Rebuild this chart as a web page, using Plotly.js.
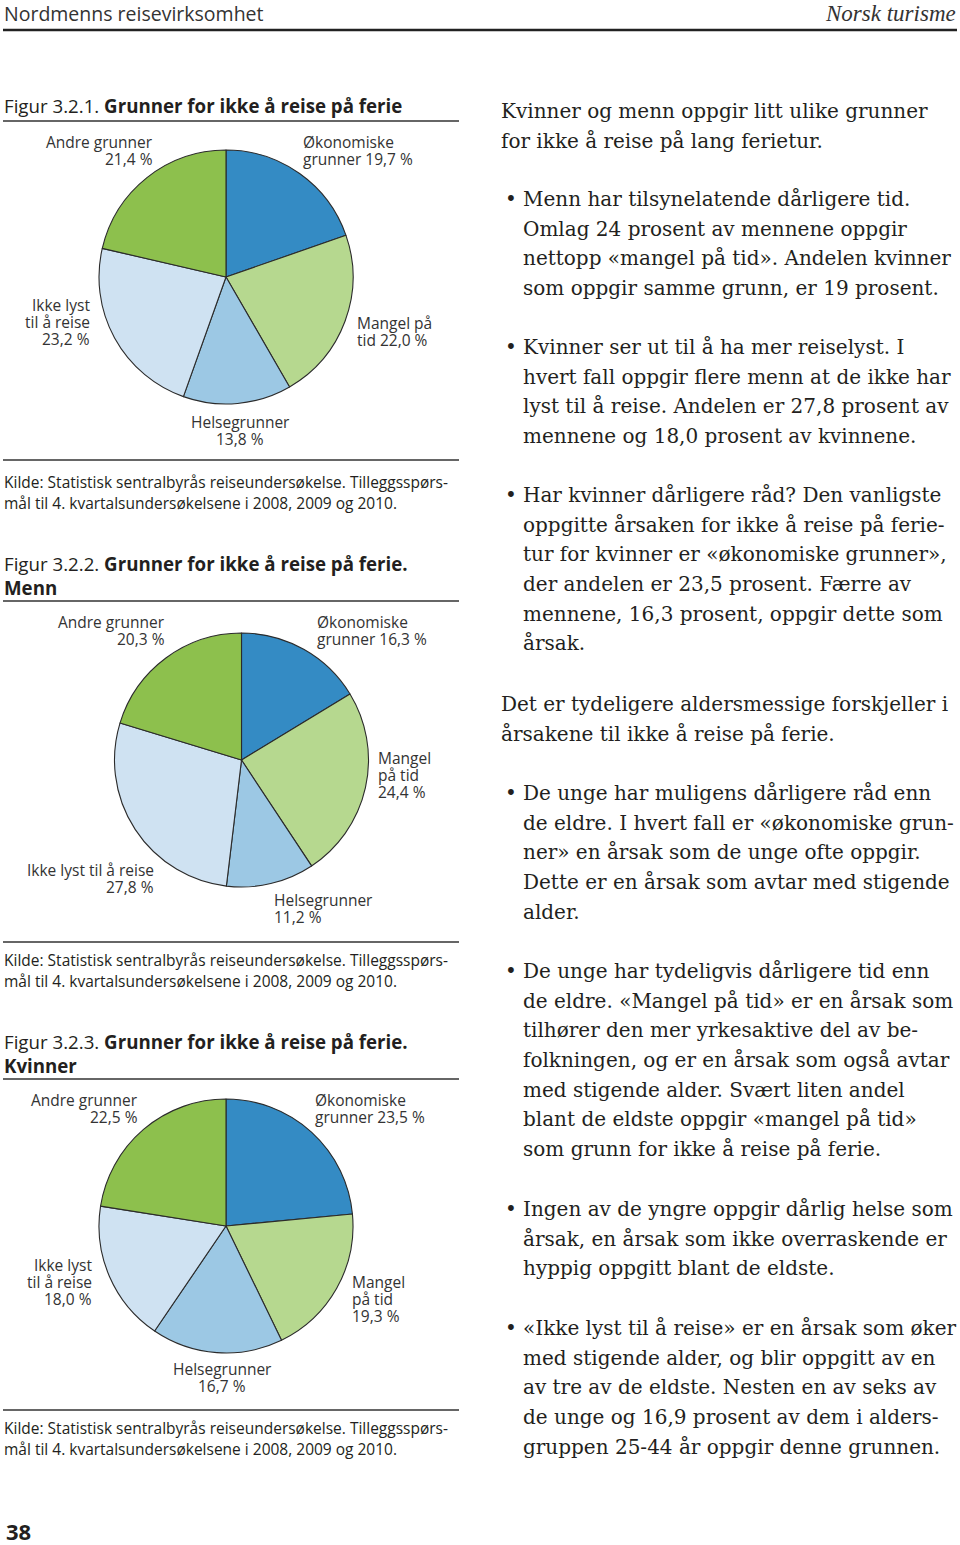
<!DOCTYPE html>
<html><head><meta charset="utf-8">
<script src="https://cdn.plot.ly/plotly-3.0.1.min.js"></script>
<style>html,body{margin:0;padding:0;background:#fff}#chart{width:960px;height:1545px}</style>
</head><body><div id="chart"></div>
<script>
// ---- data ----
const categories = ['Økonomiske grunner', 'Mangel på tid', 'Helsegrunner', 'Ikke lyst til å reise', 'Andre grunner'];
const valuesAlle = [19.7, 22.0, 13.8, 23.2, 21.4];
const valuesMenn = [16.3, 24.4, 11.2, 27.8, 20.3];
const valuesKvinner = [23.5, 19.3, 16.7, 18.0, 22.5];
const sliceColors = ['#348BC4', '#B6D88F', '#9CC8E4', '#CFE2F2', '#8DC04D'];

const headerLeft = 'Nordmenns reisevirksomhet';
const headerRight = 'Norsk turisme';
const pageNumber = '38';
const sourceLines = ['Kilde: Statistisk sentralbyrås reiseundersøkelse. Tilleggsspørs-',
                     'mål til 4. kvartalsundersøkelsene i 2008, 2009 og 2010.'];

const bodyParagraphs = [
  {bullet:false, y:111, lines:['Kvinner og menn oppgir litt ulike grunner','for ikke å reise på lang ferietur.']},
  {bullet:true, y:199, lines:['Menn har tilsynelatende dårligere tid.','Omlag 24 prosent av mennene oppgir','nettopp «mangel på tid». Andelen kvinner','som oppgir samme grunn, er 19 prosent.']},
  {bullet:true, y:347, lines:['Kvinner ser ut til å ha mer reiselyst. I','hvert fall oppgir flere menn at de ikke har','lyst til å reise. Andelen er 27,8 prosent av','mennene og 18,0 prosent av kvinnene.']},
  {bullet:true, y:495, lines:['Har kvinner dårligere råd? Den vanligste','oppgitte årsaken for ikke å reise på ferie-','tur for kvinner er «økonomiske grunner»,','der andelen er 23,5 prosent. Færre av','mennene, 16,3 prosent, oppgir dette som','årsak.']},
  {bullet:false, y:704, lines:['Det er tydeligere aldersmessige forskjeller i','årsakene til ikke å reise på ferie.']},
  {bullet:true, y:793, lines:['De unge har muligens dårligere råd enn','de eldre. I hvert fall er «økonomiske grun-','ner» en årsak som de unge ofte oppgir.','Dette er en årsak som avtar med stigende','alder.']},
  {bullet:true, y:971, lines:['De unge har tydeligvis dårligere tid enn','de eldre. «Mangel på tid» er en årsak som','tilhører den mer yrkesaktive del av be-','folkningen, og er en årsak som også avtar','med stigende alder. Svært liten andel','blant de eldste oppgir «mangel på tid»','som grunn for ikke å reise på ferie.']},
  {bullet:true, y:1209, lines:['Ingen av de yngre oppgir dårlig helse som','årsak, en årsak som ikke overraskende er','hyppig oppgitt blant de eldste.']},
  {bullet:true, y:1328, lines:['«Ikke lyst til å reise» er en årsak som øker','med stigende alder, og blir oppgitt av en','av tre av de eldste. Nesten en av seks av','de unge og 16,9 prosent av dem i alders-','gruppen 25-44 år oppgir denne grunnen.']}
];

// ---- layout helpers ----
const W = 960, H = 1545;
const X = p => p / W, Y = p => 1 - p / H;
const fmt = v => v.toFixed(1).replace('.', ',') + ' %';
const SANS = 'Open Sans, Noto Sans, sans-serif';
const SERIF = 'DejaVu Serif, serif';
const INK = '#231f20';

const pies = [
  {values: valuesAlle, cx: 226, cy: 277, r: 127,
   caption: ['Figur 3.2.1. <b>Grunner for ikke å reise på ferie</b>'], capY: 106, ruleTop: 121, ruleBottom: 460, srcY: 482,
   labels: [
     {lines: ['Økonomiske', 'grunner {v}'], x: 302, y: 142, align: 'left'},
     {lines: ['Mangel på', 'tid {v}'], x: 356, y: 323, align: 'left'},
     {lines: ['Helsegrunner', '{v}'], x: 240, y: 422, align: 'center'},
     {lines: ['Ikke lyst', 'til å reise', '{v}'], x: 91, y: 305, align: 'right'},
     {lines: ['Andre grunner', '{v}'], x: 154, y: 142, align: 'right'}]},
  {values: valuesMenn, cx: 241.5, cy: 760, r: 127,
   caption: ['Figur 3.2.2. <b>Grunner for ikke å reise på ferie.</b>', '<b>Menn</b>'], capY: 563, ruleTop: 601, ruleBottom: 942, srcY: 960,
   labels: [
     {lines: ['Økonomiske', 'grunner {v}'], x: 316, y: 622, align: 'left'},
     {lines: ['Mangel', 'på tid', '{v}'], x: 377, y: 758, align: 'left'},
     {lines: ['Helsegrunner', '{v}'], x: 273, y: 900, align: 'left'},
     {lines: ['Ikke lyst til å reise', '{v}'], x: 155, y: 870, align: 'right'},
     {lines: ['Andre grunner', '{v}'], x: 166, y: 622, align: 'right'}]},
  {values: valuesKvinner, cx: 226, cy: 1226, r: 127,
   caption: ['Figur 3.2.3. <b>Grunner for ikke å reise på ferie.</b>', '<b>Kvinner</b>'], capY: 1041, ruleTop: 1079, ruleBottom: 1410, srcY: 1428,
   labels: [
     {lines: ['Økonomiske', 'grunner {v}'], x: 314, y: 1100, align: 'left'},
     {lines: ['Mangel', 'på tid', '{v}'], x: 351, y: 1282, align: 'left'},
     {lines: ['Helsegrunner', '{v}'], x: 222, y: 1369, align: 'center'},
     {lines: ['Ikke lyst', 'til å reise', '{v}'], x: 93, y: 1265, align: 'right'},
     {lines: ['Andre grunner', '{v}'], x: 139, y: 1100, align: 'right'}]}
];

const traces = [];
const annotations = [];
const shapes = [];

function addText(text, x, y, anchor, font) {
  annotations.push({text: text, x: X(x), y: Y(y), xref: 'paper', yref: 'paper',
    xanchor: anchor, yanchor: 'middle', showarrow: false, borderpad: 0, align: anchor, font: font});
}
function addRule(y, x0, x1, w, c) {
  shapes.push({type: 'line', xref: 'paper', yref: 'paper', x0: X(x0), x1: X(x1), y0: Y(y), y1: Y(y),
    line: {color: c, width: w}});
}

pies.forEach(p => {
  traces.push({
    type: 'pie', labels: categories, values: p.values, sort: false, direction: 'clockwise', rotation: 0,
    marker: {colors: sliceColors, line: {color: '#2b2b2b', width: 1.1}},
    textinfo: 'none', hoverinfo: 'label+percent', showlegend: false,
    domain: {x: [X(p.cx - p.r), X(p.cx + p.r)], y: [Y(p.cy + p.r), Y(p.cy - p.r)]}
  });
  p.labels.forEach((lab, i) => {
    lab.lines.forEach((ln, k) => {
      addText(ln.replace('{v}', fmt(p.values[i])), lab.x, lab.y + k * 16.9, lab.align,
        {family: SANS, size: 15.5, color: '#333'});
    });
  });
  p.caption.forEach((c, k) => addText(c, 3, p.capY + k * 24.5, 'left', {family: SANS, size: 18.7, color: INK}));
  addRule(p.ruleTop, 3, 459, 1.4, '#333');
  addRule(p.ruleBottom, 3, 459, 1.4, '#333');
  sourceLines.forEach((s, k) => addText(s, 3, p.srcY + k * 21, 'left', {family: SANS, size: 15.5, color: INK}));
});

// header
addText(headerLeft, 3, 13, 'left', {family: SANS, size: 19.5, color: '#333'});
addText('<i>' + headerRight + '</i>', 957, 13, 'right', {family: 'Liberation Serif, serif', size: 23, color: '#333'});
addRule(30, 3, 957, 2.5, '#222');
// page number
addText('<b>' + pageNumber + '</b>', 5, 1531, 'left', {family: SANS, size: 22, color: INK});

// body text
const STEP = 29.65;
const BODY = {family: SERIF, size: 20, color: INK};
bodyParagraphs.forEach(par => {
  const x0 = par.bullet ? 522 : 500;
  if (par.bullet) addText('•', 511, par.y, 'center', BODY);
  par.lines.forEach((ln, k) => addText(ln, x0, par.y + k * STEP, 'left', BODY));
});

Plotly.newPlot('chart', traces, {
  width: W, height: H, margin: {l: 0, r: 0, t: 0, b: 0},
  paper_bgcolor: '#fff', plot_bgcolor: '#fff',
  annotations: annotations, shapes: shapes, showlegend: false
}, {staticPlot: true, displayModeBar: false});
</script>
</body></html>
